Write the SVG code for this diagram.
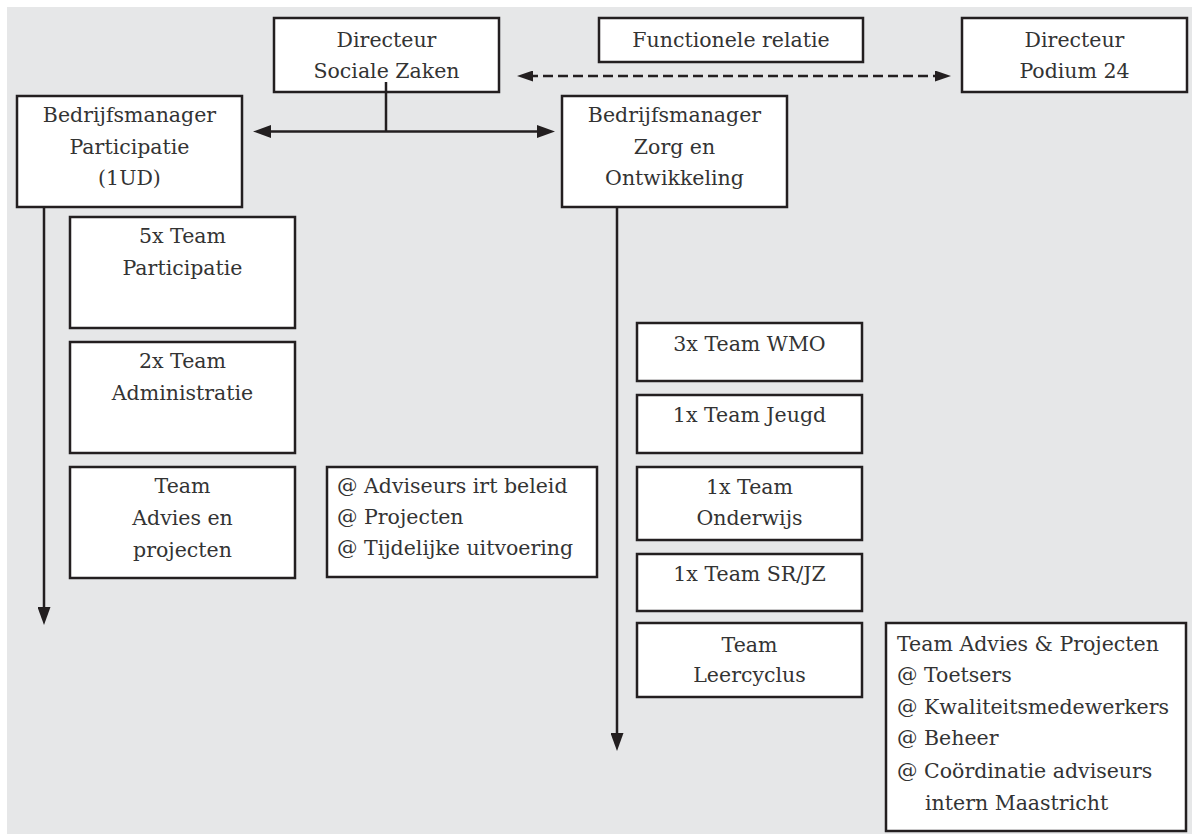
<svg xmlns="http://www.w3.org/2000/svg" width="1192" height="834" viewBox="0 0 1192 834">
<style>
.box{fill:#ffffff;stroke:#231f20;stroke-width:2.5}
.t{font-family:"DejaVu Serif","Liberation Serif",serif;font-size:20.5px;fill:#333333}
.c{text-anchor:middle}
.ln{stroke:#231f20;stroke-width:2.5;fill:none}
</style>
<defs>
<marker id="ah" markerUnits="userSpaceOnUse" markerWidth="19" markerHeight="13" refX="6" refY="6.5" orient="auto-start-reverse" viewBox="0 0 19 13">
<path d="M0,0 L18,6.5 L0,13 z" fill="#231f20"/>
</marker>
<marker id="ahs" markerUnits="userSpaceOnUse" markerWidth="17" markerHeight="11" refX="5" refY="5.5" orient="auto-start-reverse" viewBox="0 0 17 11">
<path d="M0,0 L16,5.5 L0,11 z" fill="#231f20"/>
</marker>
</defs>
<rect x="0" y="0" width="1192" height="834" fill="#ffffff"/>
<rect x="7" y="7" width="1185" height="827" fill="#e6e7e8"/>

<g id="connectors">
<line class="ln" x1="386" y1="82" x2="386" y2="131.5"/>
<line class="ln" x1="265" y1="131.5" x2="543" y2="131.5" marker-start="url(#ah)" marker-end="url(#ah)"/>
<line class="ln" x1="528" y1="76" x2="940" y2="76" stroke-dasharray="10 5" marker-start="url(#ahs)" marker-end="url(#ahs)"/>
<line class="ln" x1="44" y1="207" x2="44" y2="613" marker-end="url(#ah)"/>
<line class="ln" x1="617" y1="207" x2="617" y2="739" marker-end="url(#ah)"/>
</g>

<g id="dir-sz">
<rect class="box" x="274" y="18" width="225" height="74"/>
<text class="t c" x="386.5" y="47">Directeur</text>
<text class="t c" x="386.5" y="78">Sociale Zaken</text>
</g>
<line class="ln" x1="386" y1="82" x2="386" y2="92"/>

<g id="functionele">
<rect class="box" x="599" y="18" width="264" height="44"/>
<text class="t c" x="731" y="47">Functionele relatie</text>
</g>

<g id="dir-podium">
<rect class="box" x="962" y="18" width="225" height="74"/>
<text class="t c" x="1074.5" y="47">Directeur</text>
<text class="t c" x="1074.5" y="78">Podium 24</text>
</g>

<g id="bm-participatie">
<rect class="box" x="17" y="96" width="225" height="111"/>
<text class="t c" x="129.5" y="122">Bedrijfsmanager</text>
<text class="t c" x="129.5" y="154">Participatie</text>
<text class="t c" x="129.5" y="185">(1UD)</text>
</g>

<g id="bm-zorg">
<rect class="box" x="562" y="96" width="225" height="111"/>
<text class="t c" x="674.5" y="122">Bedrijfsmanager</text>
<text class="t c" x="674.5" y="154">Zorg en</text>
<text class="t c" x="674.5" y="185">Ontwikkeling</text>
</g>

<g id="team-participatie">
<rect class="box" x="70" y="217" width="225" height="111"/>
<text class="t c" x="182.5" y="243">5x Team</text>
<text class="t c" x="182.5" y="275">Participatie</text>
</g>

<g id="team-administratie">
<rect class="box" x="70" y="342" width="225" height="111"/>
<text class="t c" x="182.5" y="368">2x Team</text>
<text class="t c" x="182.5" y="400">Administratie</text>
</g>

<g id="team-advies-projecten">
<rect class="box" x="70" y="467" width="225" height="111"/>
<text class="t c" x="182.5" y="493">Team</text>
<text class="t c" x="182.5" y="525">Advies en</text>
<text class="t c" x="182.5" y="557">projecten</text>
</g>

<g id="adviseurs">
<rect class="box" x="327" y="467" width="270" height="110"/>
<text class="t" x="337" y="493">@ Adviseurs irt beleid</text>
<text class="t" x="337" y="524">@ Projecten</text>
<text class="t" x="337" y="555">@ Tijdelijke uitvoering</text>
</g>

<g id="team-wmo">
<rect class="box" x="637" y="323" width="225" height="58"/>
<text class="t c" x="749.5" y="351">3x Team WMO</text>
</g>

<g id="team-jeugd">
<rect class="box" x="637" y="395" width="225" height="58"/>
<text class="t c" x="749.5" y="422">1x Team Jeugd</text>
</g>

<g id="team-onderwijs">
<rect class="box" x="637" y="467" width="225" height="73"/>
<text class="t c" x="749.5" y="494">1x Team</text>
<text class="t c" x="749.5" y="525">Onderwijs</text>
</g>

<g id="team-srjz">
<rect class="box" x="637" y="554" width="225" height="57"/>
<text class="t c" x="749.5" y="581">1x Team SR/JZ</text>
</g>

<g id="team-leercyclus">
<rect class="box" x="637" y="623" width="225" height="74"/>
<text class="t c" x="749.5" y="652">Team</text>
<text class="t c" x="749.5" y="682">Leercyclus</text>
</g>

<g id="team-advies-zorg">
<rect class="box" x="886" y="623" width="300" height="208"/>
<text class="t" x="897" y="651">Team Advies &amp; Projecten</text>
<text class="t" x="897" y="682">@ Toetsers</text>
<text class="t" x="897" y="714">@ Kwaliteitsmedewerkers</text>
<text class="t" x="897" y="745">@ Beheer</text>
<text class="t" x="897" y="778">@ Coördinatie adviseurs</text>
<text class="t" x="925" y="810">intern Maastricht</text>
</g>
</svg>
